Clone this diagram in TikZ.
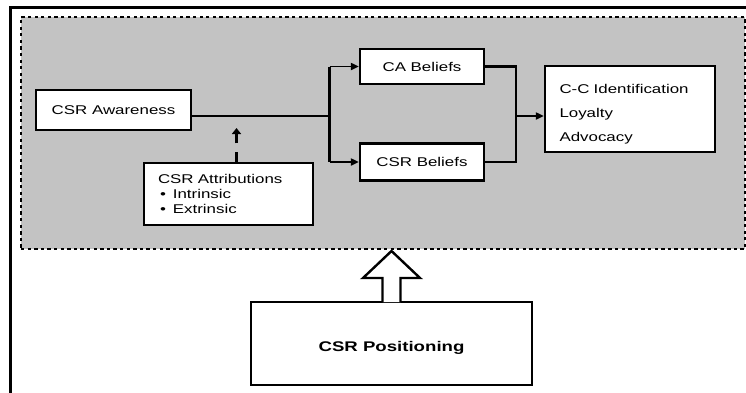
\documentclass[tikz,border=0pt]{standalone}
\usepackage{fontspec}
\setmainfont[FakeStretch=1.33]{Liberation Sans}
\usetikzlibrary{arrows.meta}
\definecolor{panelgray}{HTML}{C3C3C3}
\tikzset{
  box/.style={draw=black, line width=2.2pt, fill=white, inner ysep=0pt, font=\fontsize{12.7}{15}\selectfont},
  thinline/.style={line width=1.8pt},
  branch/.style={line width=2.8pt},
  arr/.style={line width=1.8pt, -{Triangle[length=8pt,width=7pt]}},
  dasharr/.style={line width=3.2pt, dash pattern=on 10pt off 8.5pt, -{Triangle[length=6pt,width=9pt]}},
  hollow/.style={draw=black, line width=2.4pt, fill=white, line join=miter},
}
\begin{document}
\begin{tikzpicture}[x=1pt,y=-1pt]
\clip (0,0) rectangle (746,392);
\fill[white] (0,0) rectangle (746,392);
% outer frame (cropped at right and bottom)
\draw[line width=3pt] (10.5,400) -- (10.5,7.5) -- (760,7.5);
% grey panel with dotted border
\node[draw=black, fill=panelgray, line width=2pt, dash pattern=on 3.3pt off 3.3pt,
      minimum width=724pt, minimum height=232pt, inner sep=0pt] (panel) at (383,133) {};
% boxes
\node[box, minimum width=155pt, minimum height=40pt] (aware) at (113.5,110) {CSR Awareness};
\node[box, text width=141pt, inner xsep=14pt, minimum height=62pt, align=left] (attr) at (228.5,194)
  {CSR Attributions\\\hspace*{2pt}•\hspace{7pt}Intrinsic\\\hspace*{2pt}•\hspace{7pt}Extrinsic};
\node[box, minimum width=124pt, minimum height=35pt] (ca) at (422,66.5) {CA Beliefs};
\node[box, minimum width=124pt, minimum height=37pt] (csrb) at (422,162) {CSR Beliefs};
\node[box, text width=141pt, inner xsep=14.5pt, minimum height=86pt, align=left,
      font=\fontsize{12.7}{24}\selectfont] (cc) at (630,109)
  {\rule{0pt}{19.3pt}C-C Identification\\Loyalty\\Advocacy};
\node[box, minimum width=281pt, minimum height=83pt, font=\fontsize{14}{16}\selectfont\bfseries] (pos) at (391.5,343.5)
  {\rule{0pt}{18.2pt}CSR Positioning};
% connectors
\coordinate (j) at (329.5,116);
\coordinate (m) at (516,116);
\coordinate (d) at (236.5,128);
\coordinate (tip) at (391.5,251);
\draw[thinline] (aware.east |- j) -- (j);
\draw[branch] (j |- ca.west) -- (j |- csrb.west);
\draw[arr] (j |- ca.west) -- (ca.west);
\draw[arr] (j |- csrb.west) -- (csrb.west);
\draw[branch] (ca.east) -| (m) |- (csrb.east);
\draw[arr] (m) -- (cc.west |- m);
\draw[dasharr] (attr.north -| d) -- (d);
% hollow block arrow from CSR Positioning up to the panel
\draw[hollow] (382.5,302) -- (382.5,278) -- (363,278) -- (tip) -- (420,278) -- (400.5,278) -- (400.5,302);
\end{tikzpicture}
\end{document}
